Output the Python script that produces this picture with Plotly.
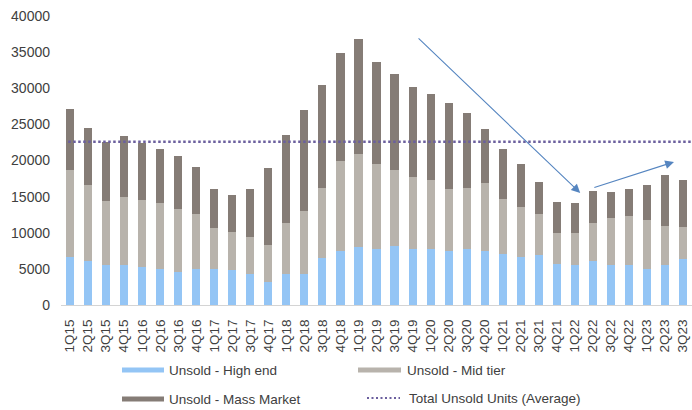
import plotly.graph_objects as go

# Quarterly unsold inventory (units)
quarters = [
    "1Q15", "2Q15", "3Q15", "4Q15",
    "1Q16", "2Q16", "3Q16", "4Q16",
    "1Q17", "2Q17", "3Q17", "4Q17",
    "1Q18", "2Q18", "3Q18", "4Q18",
    "1Q19", "2Q19", "3Q19", "4Q19",
    "1Q20", "2Q20", "3Q20", "4Q20",
    "1Q21", "2Q21", "3Q21", "4Q21",
    "1Q22", "2Q22", "3Q22", "4Q22",
    "1Q23", "2Q23", "3Q23",
]

high_end = [
    6700, 6150, 5550, 5550,
    5200, 4950, 4600, 4950,
    4950, 4850, 4300, 3250,
    4250, 4250, 6450, 7450,
    8050, 7750, 8200, 7700,
    7800, 7450, 7700, 7500,
    7050, 6700, 6900, 5700,
    5550, 6100, 5550, 5550,
    4950, 5550, 6400,
]

mid_tier = [
    12000, 10400, 8800, 9350,
    9350, 9150, 8700, 7650,
    5750, 5300, 5150, 5100,
    7050, 8700, 9700, 12550,
    12850, 11750, 10550, 9950,
    9450, 8550, 8450, 9450,
    7650, 6800, 5750, 4300,
    4450, 5200, 6550, 6700,
    6800, 5450, 4450,
]

mass_market = [
    8450, 7950, 8250, 8500,
    7900, 7450, 7300, 6450,
    5300, 5050, 6550, 10550,
    12250, 14050, 14300, 14900,
    15950, 14150, 13250, 12500,
    11950, 11950, 10400, 7350,
    6950, 6000, 4400, 4200,
    4050, 4500, 3600, 3800,
    4800, 6950, 6400,
]

avg_total = 22600

C_HIGH = "#94c5f5"
C_MID = "#b8b3ac"
C_MASS = "#857c76"
C_AVG = "#6b5f9e"
C_ARROW = "#5585c0"
TXT = "#404040"

W, H = 692, 410
L, R, T, B = 61, 0, 16, 105
PW, PH = W - L - R, H - T - B


def px(xp):
    return (xp - L) / PW


def py(yp):
    return (H - B - yp) / PH


fig = go.Figure()
fig.add_bar(x=quarters, y=high_end, name="Unsold - High end",
            marker=dict(color=C_HIGH, line=dict(width=0)))
fig.add_bar(x=quarters, y=mid_tier, name="Unsold - Mid tier",
            marker=dict(color=C_MID, line=dict(width=0)))
fig.add_bar(x=quarters, y=mass_market, name="Unsold - Mass Market",
            marker=dict(color=C_MASS, line=dict(width=0)))

# Average of total unsold units, dotted across the full period
fig.add_shape(type="line", xref="x", yref="y",
              x0=-0.1, x1=len(quarters) - 0.5, y0=avg_total, y1=avg_total,
              line=dict(color=C_AVG, width=2.5, dash="2.5px,2.5px"))

fig.update_layout(
    width=W, height=H,
    margin=dict(l=L, r=R, t=T, b=B, pad=0),
    barmode="stack",
    bargap=0.55,
    showlegend=False,
    paper_bgcolor="white",
    plot_bgcolor="white",
    font=dict(family="Liberation Sans, Arial, sans-serif", color=TXT),
)

fig.update_xaxes(
    type="category",
    range=[-0.5, len(quarters) - 0.5],
    tickangle=-90,
    tickfont=dict(size=13.5, color=TXT),
    showline=True, linecolor="#d4d4d4", linewidth=1,
    showgrid=False, ticks="",
    ticklabelstandoff=8,
)
fig.update_yaxes(
    range=[0, 40000],
    dtick=5000,
    tickformat="d",
    tickfont=dict(size=14, color=TXT),
    showgrid=False, zeroline=False, showline=False, ticks="",
    ticklabelstandoff=10,
)

# Trend arrows
fig.add_annotation(x=28.3, y=15500, ax=19.25, ay=37100,
                   xref="x", yref="y", axref="x", ayref="y",
                   text="", showarrow=True, arrowhead=2, arrowsize=1.6,
                   arrowwidth=1.1, arrowcolor=C_ARROW)
fig.add_annotation(x=33.5, y=19800, ax=29.0, ay=16200,
                   xref="x", yref="y", axref="x", ayref="y",
                   text="", showarrow=True, arrowhead=2, arrowsize=1.6,
                   arrowwidth=1.1, arrowcolor=C_ARROW)

# Legend drawn below the plot
legend_items = [
    ("bar", C_HIGH, 122, 164, 370, 167, "Unsold - High end"),
    ("bar", C_MID, 358, 401, 370, 405, "Unsold - Mid tier"),
    ("bar", C_MASS, 122, 164, 399, 167, "Unsold - Mass Market"),
    ("dot", C_AVG, 367, 400, 398, 407, "Total Unsold Units (Average)"),
]
for kind, color, x0, x1, yc, tx, label in legend_items:
    if kind == "bar":
        fig.add_shape(type="rect", xref="paper", yref="paper",
                      x0=px(x0), x1=px(x1), y0=py(yc + 2.5), y1=py(yc - 2.5),
                      fillcolor=color, line=dict(width=0))
    else:
        fig.add_shape(type="line", xref="paper", yref="paper",
                      x0=px(x0), x1=px(x1), y0=py(yc), y1=py(yc),
                      line=dict(color=color, width=2, dash="2px,2.5px"))
    fig.add_annotation(x=px(tx), y=py(yc), xref="paper", yref="paper",
                       text=label, showarrow=False, xanchor="left",
                       yanchor="middle", font=dict(size=13.5, color=TXT))

fig.write_html("out.html")
